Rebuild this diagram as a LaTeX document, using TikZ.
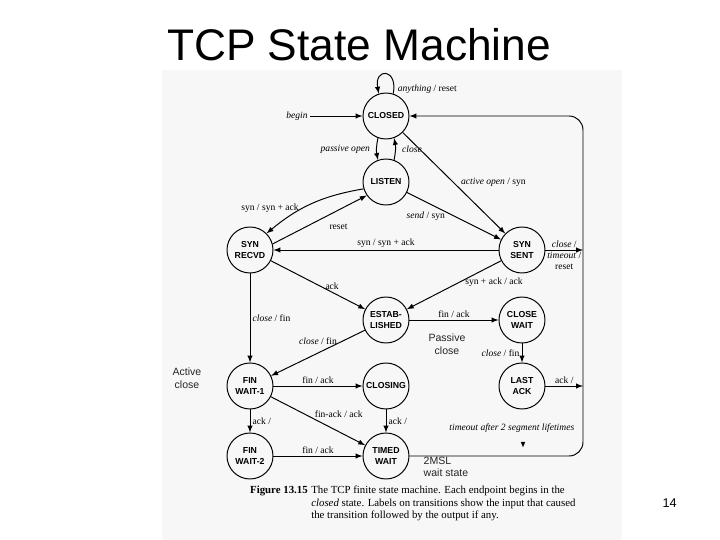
\documentclass[tikz,border=0pt]{standalone}
\usepackage{fontspec}
\setmainfont{Liberation Serif}
\setsansfont{Liberation Sans}
\usepackage{tikz}
\usetikzlibrary{arrows}
\definecolor{scanbg}{RGB}{247,247,247}

\begin{document}
\begin{tikzpicture}[
    state/.style={circle, draw, line width=0.7pt, minimum size=1.15cm, inner sep=0pt, align=center, font=\sffamily\bfseries\fontsize{6.2}{7.8}\selectfont},
    msg/.style={line width=0.7pt, ->, >=latex},
    lbl/.style={font=\fontsize{6.8}{7.6}\selectfont, inner sep=1.5pt},
    note/.style={font=\sffamily\fontsize{7.5}{9}\selectfont, color=black!85}
]
    \useasboundingbox (0,0) rectangle (18,13.5);
    \fill[scanbg] (4.05,0) rectangle (15.55,11.75);

    \node[anchor=base, font=\sffamily\fontsize{31.5}{36}\selectfont] (title) at (8.975,11.975) {TCP State Machine};
    \node[anchor=base, font=\sffamily\fontsize{9}{10}\selectfont] (page) at (16.74,0.8) {14};

    % states
    \node[state] (closed) at (9.65,10.6) {CLOSED};
    \node[state] (listen) at (9.65,8.95) {LISTEN};
    \node[state] (synrcvd) at (6.25,7.25) {SYN\\RECVD};
    \node[state] (synsent) at (13.05,7.25) {SYN\\SENT};
    \node[state] (estab) at (9.65,5.5) {ESTAB-\\LISHED};
    \node[state] (closewait) at (13.05,5.5) {CLOSE\\WAIT};
    \node[state] (lastack) at (13.05,3.85) {LAST\\ACK};
    \node[state] (finwait1) at (6.25,3.85) {FIN\\WAIT-1};
    \node[state] (closing) at (9.65,3.85) {CLOSING};
    \node[state] (finwait2) at (6.25,2.1) {FIN\\WAIT-2};
    \node[state] (timewait) at (9.65,2.1) {TIMED\\WAIT};

    \coordinate (start) at (7.75,10.6);
    \coordinate (rtop) at (14.575,10.6);
    \coordinate (rbot) at (14.575,2.1);

    % opening
    \draw[msg] (closed.72) .. controls +(0.12,0.65) and +(-0.12,0.65) .. node[lbl, pos=0.06, right=1pt] (anylbl) {\textit{anything} / reset} (closed.108);
    \draw[msg] (start) -- (closed);
    \node[lbl, left] (beginlbl) at (start) {\textit{begin}};
    \draw[msg] (closed.250) to[bend right=12] node[lbl, left=3pt] (pasvlbl) {\textit{passive open}} (listen.110);
    \draw[msg] (listen.70) to[bend right=12] node[lbl, right=3pt] (closelbl) {\textit{close}} (closed.290);
    \draw[msg] (closed) -- node[lbl, pos=0.49, right=4pt] (aolbl) {\textit{active open} / syn} (synsent);
    \draw[msg] (listen) -- node[lbl, pos=0.2, below=5pt] (sendlbl) {\textit{send} / syn} (synsent);
    \draw[msg] (listen.197) to[bend right=15] node[lbl, pos=0.6, left=1pt] (synlbl1) {syn / syn + ack} (synrcvd.45);
    \draw[msg] (synrcvd.15) -- node[lbl, pos=0.7, below=8pt] (rstlbl) {reset} (listen.215);
    \draw[msg] (synsent) -- node[lbl, above] (synlbl2) {syn / syn + ack} (synrcvd);
    \draw[msg] (synrcvd) -- node[lbl, pos=0.65, above] (acklbl1) {ack} (estab);
    \draw[msg] (synsent) -- node[lbl, pos=0.12, below=6pt, xshift=3pt] (saalbl) {syn + ack / ack} (estab);

    % closing
    \draw[msg] (synrcvd) -- node[lbl, right] (cflbl1) {\textit{close} / fin} (finwait1);
    \draw[msg] (estab) -- node[lbl, above=4pt] (cflbl2) {\textit{close} / fin} (finwait1);
    \draw[msg] (estab) -- node[lbl, above] (falbl1) {fin / ack} (closewait);
    \draw[msg] (closewait) -- node[lbl, left] (cflbl3) {\textit{close} / fin} (lastack);
    \draw[msg] (finwait1) -- node[lbl, above] (falbl2) {fin / ack} (closing);
    \draw[msg] (finwait1) -- node[lbl, pos=0.72, above=8pt] (faalbl) {fin-ack / ack} (timewait);
    \draw[msg] (finwait1) -- node[lbl, right] (acklbl2) {ack /} (finwait2);
    \draw[msg] (closing) -- node[lbl, right] (acklbl3) {ack /} (timewait);
    \draw[msg] (finwait2) -- node[lbl, above] (falbl3) {fin / ack} (timewait);

    % back to CLOSED
    \draw[msg, rounded corners=0.35cm] (timewait.east) -- node[lbl, pos=0.59, above=15pt] (tolbl) {\textit{timeout after 2 segment lifetimes}} (rbot) -- (rtop) -- (closed.east);
    \draw[msg] (synsent) -- node[lbl, above] (cllbl) {\textit{close} /} node[lbl, below, align=center] (tmlbl) {\textit{timeout} /\\reset} (synsent -| rtop);
    \draw[msg] (lastack) -- node[lbl, above] (acklbl4) {ack /} (lastack -| rtop);
    \fill (13.02,2.45) -- (13.13,2.45) -- (13.075,2.32) -- cycle;

    % hand notes
    \node[note, align=center] (actnote) at (4.675,4.05) {Active\\close};
    \node[note, align=center] (pasnote) at (11.175,4.9) {Passive\\close};
    \node[note, align=left] (msnote) at (11.15,1.825) {2MSL\\wait state};

    % caption
    \node[anchor=north east, inner sep=0pt, font=\bfseries\fontsize{7.7}{8.9}\selectfont] (figno) at (7.7,1.35) {Figure 13.15};
    \node[anchor=north west, inner sep=0pt, align=left, font=\fontsize{7.7}{8.9}\selectfont] (caption) at (7.775,1.35) {The TCP finite state machine. Each endpoint begins in the\\\textit{closed} state. Labels on transitions show the input that caused\\the transition followed by the output if any.};
\end{tikzpicture}
\end{document}
